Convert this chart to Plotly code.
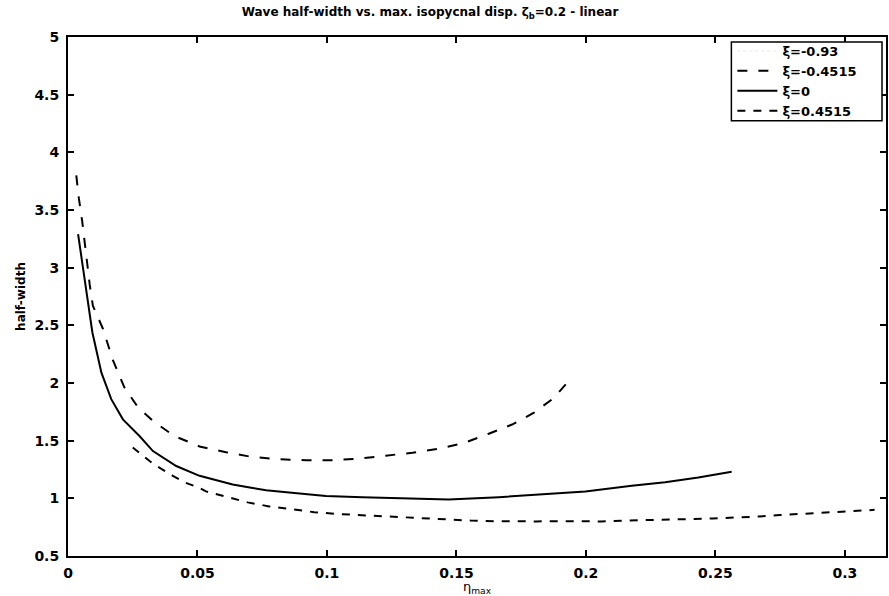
import plotly.graph_objects as go

# ---------------- data ----------------
x_ticks = [0, 0.05, 0.1, 0.15, 0.2, 0.25, 0.3]
x_tick_text = ["0", "0.05", "0.1", "0.15", "0.2", "0.25", "0.3"]
y_ticks = [0.5, 1, 1.5, 2, 2.5, 3, 3.5, 4, 4.5, 5]
y_tick_text = ["0.5", "1", "1.5", "2", "2.5", "3", "3.5", "4", "4.5", "5"]

legend_names = ["ξ=-0.93", "ξ=-0.4515", "ξ=0", "ξ=0.4515"]

# xi = -0.93 : no curve visible in the reference (legend entry only)
eta_m093 = [None]
hw_m093 = [None]

# xi = -0.4515 (upper dashed curve)
eta_m045 = [0.0032, 0.0042, 0.0055, 0.0064, 0.0073, 0.0084, 0.0096, 0.0135,
            0.0173, 0.0218, 0.027, 0.0334, 0.0411, 0.0508, 0.061, 0.0707,
            0.081, 0.0919, 0.102, 0.1124, 0.1227, 0.133, 0.1432, 0.1529,
            0.1625, 0.1715, 0.1798, 0.1876, 0.1946]
hw_m045 = [3.80, 3.60, 3.40, 3.23, 3.04, 2.85, 2.67, 2.47,
           2.20, 1.96, 1.79, 1.66, 1.54, 1.45, 1.40, 1.36,
           1.34, 1.33, 1.33, 1.345, 1.37, 1.395, 1.43, 1.48,
           1.56, 1.64, 1.74, 1.87, 2.05]

# xi = 0 (solid curve)
eta_0 = [0.0039, 0.0067, 0.0094, 0.0129, 0.0167, 0.0212, 0.0276, 0.0328,
         0.0418, 0.0508, 0.0572, 0.0636, 0.0713, 0.0765, 0.0854, 0.0996,
         0.1137, 0.1265, 0.1394, 0.147, 0.1664, 0.1856, 0.1998, 0.2177,
         0.2306, 0.2434, 0.2563]
hw_0 = [3.29, 2.87, 2.44, 2.09, 1.86, 1.685, 1.54, 1.41,
        1.28, 1.195, 1.16, 1.12, 1.09, 1.07, 1.05, 1.02,
        1.01, 1.0, 0.995, 0.99, 1.01, 1.04, 1.06, 1.11,
        1.14, 1.18, 1.23]

# xi = 0.4515 (lower dashed curve)
eta_p045 = [0.025, 0.0328, 0.0405, 0.0449, 0.0508, 0.0533, 0.0617, 0.0694,
            0.0777, 0.0867, 0.0951, 0.1034, 0.1124, 0.1208, 0.1297, 0.1381,
            0.147, 0.1555, 0.1644, 0.172, 0.181, 0.1895, 0.198, 0.206,
            0.215, 0.2235, 0.232, 0.240, 0.249, 0.2576, 0.2666, 0.275,
            0.2832, 0.292, 0.3006, 0.3115]
hw_p045 = [1.44, 1.30, 1.195, 1.14, 1.09, 1.06, 1.01, 0.965,
           0.93, 0.905, 0.88, 0.865, 0.855, 0.842, 0.835, 0.826,
           0.815, 0.807, 0.802, 0.80, 0.80, 0.802, 0.80, 0.80,
           0.807, 0.81, 0.814, 0.82, 0.826, 0.832, 0.842, 0.855,
           0.866, 0.878, 0.887, 0.90]

# ---------------- figure ----------------
FONT = "DejaVu Sans"
fig = go.Figure()

fig.add_trace(go.Scatter(x=eta_m093, y=hw_m093, mode="lines", name=legend_names[0],
                         line=dict(color="#e8e8e8", width=1, dash="dot")))
fig.add_trace(go.Scatter(x=eta_m045, y=hw_m045, mode="lines", name=legend_names[1],
                         line=dict(color="black", width=2, dash="10px,11px")))
fig.add_trace(go.Scatter(x=eta_0, y=hw_0, mode="lines", name=legend_names[2],
                         line=dict(color="black", width=2)))
fig.add_trace(go.Scatter(x=eta_p045, y=hw_p045, mode="lines", name=legend_names[3],
                         line=dict(color="black", width=2, dash="8px,8px")))

axis_common = dict(
    showline=True, linecolor="black", linewidth=2, mirror="allticks",
    ticks="inside", ticklen=6, tickwidth=1.5, tickcolor="black",
    showgrid=False, zeroline=False,
    tickfont=dict(family=FONT, size=14, color="black", weight="bold"),
)

fig.update_xaxes(range=[0, 0.3159], tickvals=x_ticks, ticktext=x_tick_text,
                 ticklabelstandoff=3,
                 title=dict(text="η<sub>max</sub>", standoff=5,
                            font=dict(family=FONT, size=13, color="black")),
                 **axis_common)
fig.update_yaxes(range=[0.5, 5], tickvals=y_ticks, ticktext=y_tick_text,
                 ticklabelstandoff=4,
                 title=dict(text="half-width", standoff=6,
                            font=dict(family=FONT, size=12, color="black", weight="bold")),
                 **axis_common)

fig.update_layout(
    width=889, height=596,
    margin=dict(l=68, r=1, t=37, b=39),
    paper_bgcolor="white", plot_bgcolor="white",
    showlegend=True,
    title=dict(text="Wave half-width vs. max. isopycnal disp. ζ<sub>b</sub>=0.2 - linear",
               x=430 / 889, xanchor="center", xref="container",
               y=1 - 12 / 596, yanchor="middle", yref="container",
               font=dict(family=FONT, size=12, color="black", weight="bold")),
    legend=dict(x=(734 - 68) / 820, y=1 - (36 - 37) / 520, xanchor="left", yanchor="top",
                bgcolor="rgba(0,0,0,0)", borderwidth=0, itemwidth=40, tracegroupgap=0,
                font=dict(family=FONT, size=13, color="black", weight="bold")),
    shapes=[dict(type="rect", xref="paper", yref="paper",
                 x0=(733 - 68) / 820, x1=(884 - 68) / 820,
                 y0=1 - (121 - 37) / 520, y1=1 - (42 - 37) / 520,
                 line=dict(color="black", width=1.5), fillcolor="white",
                 layer="above")],
)

fig.write_html("out.html")
